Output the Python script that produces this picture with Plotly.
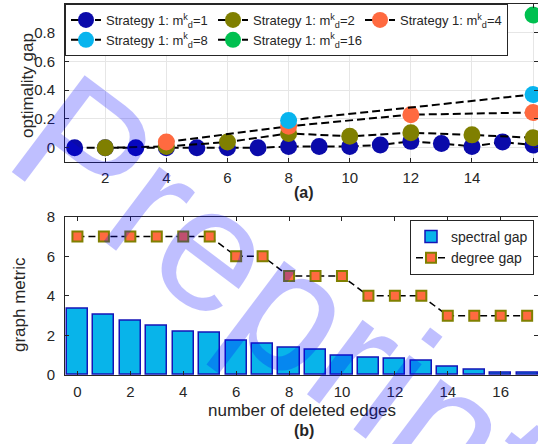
import plotly.graph_objects as go

# ---------------- data ----------------
# panel (a): optimality gap vs x for different m_d^k
x_m1 = list(range(1, 17))
y_m1 = [0.0, 0.0, 0.0, 0.0, 0.0, 0.0, 0.0, 0.01, 0.01, 0.01, 0.02, 0.045, 0.03, 0.01, 0.04, 0.02]
x_m2 = [2, 4, 6, 8, 10, 12, 14, 16]
y_m2 = [0.0, 0.01, 0.04, 0.10, 0.08, 0.105, 0.09, 0.07]
x_m4 = [4, 8, 12, 16]
y_m4 = [0.04, 0.15, 0.23, 0.245]
x_m8 = [8, 16]
y_m8 = [0.19, 0.37]
x_m16 = [16]
y_m16 = [0.92]

# panel (b): graph metrics vs number of deleted edges
edges = list(range(0, 18))
spectral_gap = [3.35, 3.05, 2.75, 2.5, 2.2, 2.15, 1.72, 1.57, 1.37, 1.3, 1.0, 0.85,
                0.8, 0.7, 0.42, 0.25, 0.12, 0.1]
degree_gap = [7, 7, 7, 7, 7, 7, 6, 6, 5, 5, 5, 4, 4, 4, 3, 3, 3, 3]

top_xticks = [2, 4, 6, 8, 10, 12, 14, 16]
top_yticks = [0, 0.2, 0.4, 0.6, 0.8]
top_yticktext = ["0", "0.2", "0.4", "0.6", "0.8"]
bot_xticks = [0, 2, 4, 6, 8, 10, 12, 14, 16]
bot_yticks = [0, 2, 4, 6, 8]

W, H = 538, 444
FONT = "Liberation Sans, Arial, Helvetica, sans-serif"

def px_x(p):
    return p / W

def px_y(p):
    return 1 - p / H

fig = go.Figure()

series = [
    (x_m1, y_m1, "#0A0AAA", "1"),
    (x_m2, y_m2, "#7F7F00", "2"),
    (x_m4, y_m4, "#FF6A40", "4"),
    (x_m8, y_m8, "#08B4EE", "8"),
    (x_m16, y_m16, "#00C050", "16"),
]
for xs, ys, col, lab in series:
    fig.add_trace(go.Scatter(
        x=xs, y=ys, mode="lines+markers",
        name="Strategy 1: m<sup>k</sup><sub>d</sub>=" + lab,
        line=dict(color="black", width=2, dash="8px,4px"),
        marker=dict(color=col, size=17, line=dict(width=0)),
        xaxis="x", yaxis="y", legend="legend",
    ))

fig.add_trace(go.Bar(
    x=edges, y=spectral_gap, width=0.8, name="spectral gap",
    marker=dict(color="#08B4EA", line=dict(color="#1414B8", width=1.5)),
    xaxis="x2", yaxis="y2", legend="legend2",
))
fig.add_trace(go.Scatter(
    x=edges, y=degree_gap, mode="lines+markers", name="degree gap",
    line=dict(color="black", width=1.5, dash="7px,4px"),
    marker=dict(symbol="square", size=10, color="#FF6A40",
                line=dict(color="#808000", width=2)),
    xaxis="x2", yaxis="y2", legend="legend2",
))

axis_common = dict(
    showline=True, linecolor="#262626", linewidth=1, mirror="ticks",
    ticks="inside", ticklen=4, tickcolor="#262626", zeroline=False,
    automargin=False,
    tickfont=dict(family=FONT, size=15, color="#262626"),
)

fig.update_layout(
    template="none",
    width=W, height=H,
    margin=dict(l=0, r=0, t=0, b=0, pad=0),
    paper_bgcolor="white", plot_bgcolor="white",
    font=dict(family=FONT, color="#262626"),
    xaxis=dict(domain=[px_x(65), 1], range=[0.684, 16.16], tickvals=top_xticks,
               showgrid=True, gridcolor="#e6e6e6", gridwidth=1, anchor="y",
               ticklabelstandoff=2, **axis_common),
    yaxis=dict(domain=[px_y(162.3), px_y(3.5)], range=[-0.1, 1.0],
               tickvals=top_yticks, ticktext=top_yticktext,
               showgrid=True, gridcolor="#e6e6e6", gridwidth=1, anchor="x",
               ticklabelstandoff=6, **axis_common),
    xaxis2=dict(domain=[px_x(65), 1], range=[-0.47, 17.41], tickvals=bot_xticks,
                showgrid=False, anchor="y2", ticklabelstandoff=3, **axis_common),
    yaxis2=dict(domain=[px_y(375), px_y(216.7)], range=[0, 8], tickvals=bot_yticks,
                showgrid=False, anchor="x2", ticklabelstandoff=6, **axis_common),
    bargap=0,
    legend=dict(
        x=px_x(65), y=px_y(4), xanchor="left", yanchor="top",
        orientation="h", entrywidth=102, entrywidthmode="pixels",
        bgcolor="white", bordercolor="#262626", borderwidth=1,
        font=dict(family=FONT, size=13, color="#262626"),
        tracegroupgap=0,
    ),
    legend2=dict(
        x=px_x(534), y=px_y(220), xanchor="right", yanchor="top",
        bgcolor="white", bordercolor="#262626", borderwidth=1,
        font=dict(family=FONT, size=14, color="#262626"),
        tracegroupgap=0,
    ),
    showlegend=True,
)

annots = [
    dict(text="optimality gap", x=px_x(27), y=px_y(86), textangle=-90,
         font=dict(family=FONT, size=17, color="#262626")),
    dict(text="graph metric", x=px_x(19), y=px_y(305), textangle=-90,
         font=dict(family=FONT, size=17, color="#262626")),
    dict(text="number of deleted edges", x=px_x(302), y=px_y(410),
         font=dict(family=FONT, size=17, color="#262626")),
    dict(text="<b>(a)</b>", x=px_x(304), y=px_y(192),
         font=dict(family=FONT, size=16, color="#262626")),
    dict(text="<b>(b)</b>", x=px_x(304), y=px_y(430),
         font=dict(family=FONT, size=16, color="#262626")),
    dict(text="Preprint", x=px_x(283), y=px_y(300), textangle=37,
         font=dict(family=FONT, size=176, color="rgba(0,0,255,0.25)")),
]
for a in annots:
    fig.add_annotation(xref="paper", yref="paper", showarrow=False,
                       xanchor="center", yanchor="middle", **a)

fig.write_html("out.html",
               config={"displayModeBar": False},
               post_script="document.body.style.margin='0px';"
                           "document.body.style.overflow='hidden';")
